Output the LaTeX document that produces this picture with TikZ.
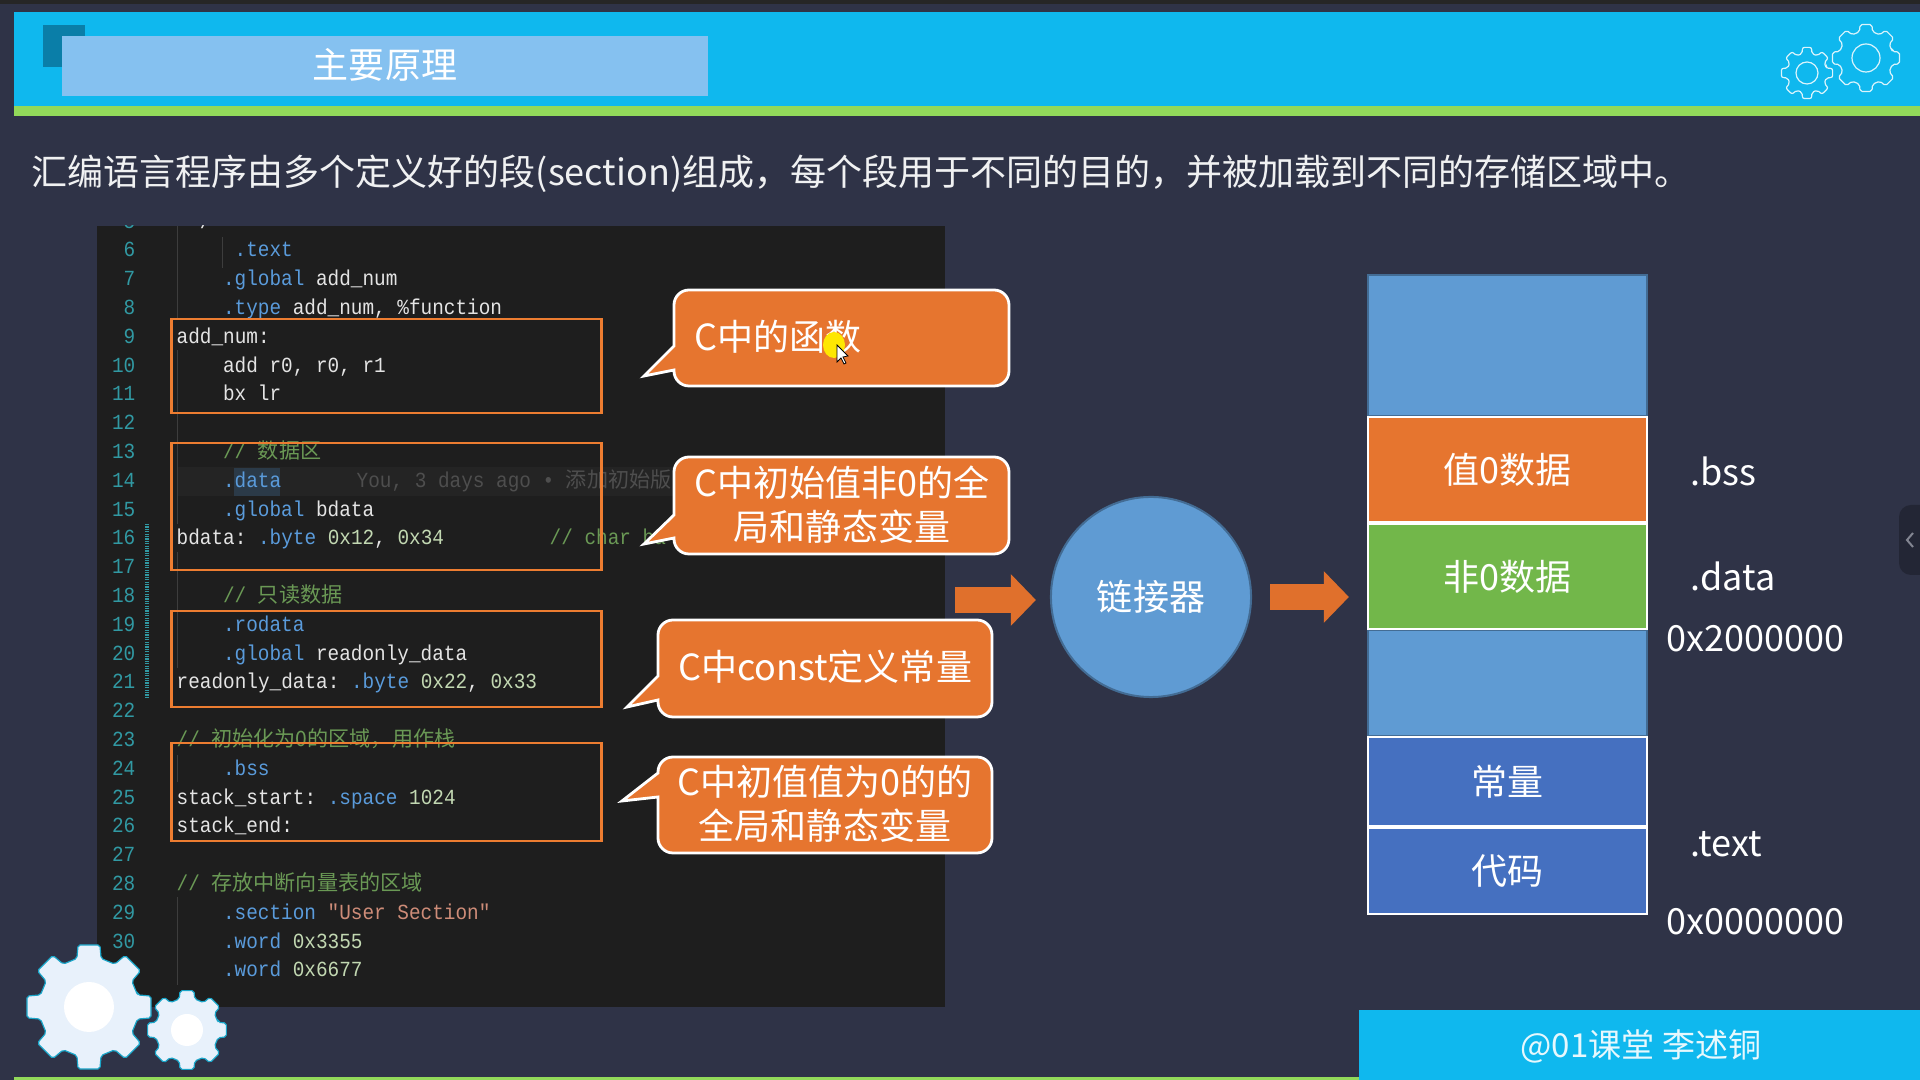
\documentclass[tikz,border=0pt]{standalone}
\usepackage{xcolor}
\usepackage{fontspec}
\setmainfont{Noto Sans CJK SC}
\newfontfamily\codefont[FakeStretch=0.9]{Liberation Mono}
\newfontfamily\cjkcode{Noto Sans CJK SC}
\usepackage{tikz}
\usetikzlibrary{arrows.meta, calc}
\definecolor{slidebg}{HTML}{2F3347}
\definecolor{headcyan}{HTML}{0FB8EE}
\definecolor{headgreen}{HTML}{92D95A}
\definecolor{titlefill}{HTML}{85C1F0}
\definecolor{cornerblue}{HTML}{0A7EA8}
\definecolor{panelbg}{HTML}{1E1E1E}
\definecolor{numteal}{HTML}{3199A3}
\definecolor{guide}{HTML}{3D3D3D}
\definecolor{kwblue}{HTML}{5A9BDB}
\definecolor{numgreen}{HTML}{C2D8B2}
\definecolor{strred}{HTML}{CE8C78}
\definecolor{cmtgreen}{HTML}{6A9955}
\definecolor{ghost}{HTML}{4E4E4E}
\definecolor{codewhite}{HTML}{E4E4E4}
\definecolor{boxorange}{HTML}{ED7D31}
\definecolor{bubblefill}{HTML}{E6752F}
\definecolor{arroworange}{HTML}{E0702C}
\definecolor{memblue}{HTML}{5F9BD3}
\definecolor{memgreen}{HTML}{72B74A}
\definecolor{memdeep}{HTML}{4570C0}
\definecolor{gearfill}{HTML}{E8F1FB}
\definecolor{gearedge}{HTML}{1AA5C8}

\newcommand{\asmkw}[1]{\textcolor{kwblue}{#1}}
\newcommand{\asmnum}[1]{\textcolor{numgreen}{#1}}
\newcommand{\asmstr}[1]{\textcolor{strred}{#1}}
\newcommand{\asmcjk}[1]{{\cjkcode\fontsize{6}{7}\selectfont #1}}

% x1 y1 x2 y2 tipx tipy base-top base-bottom
\newcommand{\bubble}[8]{
  \draw[bubbleshape] ($(#1,#2)+(15,0)$) -- ($(#3,#2)+(-15,0)$) arc[start angle=-90, end angle=0, radius=15]
    -- ($(#3,#4)+(0,-15)$) arc[start angle=0, end angle=90, radius=15]
    -- ($(#1,#4)+(15,0)$) arc[start angle=90, end angle=180, radius=15]
    -- (#1,#8) -- (#5,#6) -- (#1,#7)
    -- ($(#1,#2)+(0,15)$) arc[start angle=180, end angle=270, radius=15] -- cycle;
}
% cx cy outer inner style
\newcommand{\gear}[5]{
  \begin{scope}[shift={(#1,#2)}]
    \draw[#5, rounded corners=0.02cm] (-14:#4)
      \foreach \a in {0,45,...,315} { -- (\a-14:#4) -- (\a-10:#3) -- (\a+10:#3) -- (\a+14:#4) } -- cycle;
  \end{scope}
}

\begin{document}
\begin{tikzpicture}[
    x=0.01cm, y=-0.01cm,
    bigtext/.style={font=\fontsize{10.24}{12.5}\selectfont, text=white, inner sep=0pt, align=center},
    codeline/.style={anchor=base west, inner sep=0pt, text=codewhite, font=\codefont\fontsize{6.12}{7}\selectfont\frenchspacing},
    linenum/.style={anchor=base east, inner sep=0pt, text=numteal, font=\codefont\fontsize{6.12}{7}\selectfont},
    codebox/.style={draw=boxorange, line width=0.025cm},
    bubbleshape/.style={draw=white, line width=0.028cm, fill=bubblefill},
    blockarrow/.style={-{Triangle[length=0.25cm, width=0.5cm]}, line width=0.26cm, color=arroworange},
    memseg/.style={rectangle, draw=white, line width=0.025cm, minimum width=2.785cm, inner sep=0pt,
                   font=\fontsize{10.24}{12.5}\selectfont, text=white},
    linkernode/.style={circle, draw=memblue!70!black, line width=0.02cm, fill=memblue, minimum size=2cm,
                   inner sep=0pt, font=\fontsize{10.24}{12.5}\selectfont, text=white},
]
\useasboundingbox (0,0) rectangle (1920,1080);
\fill[slidebg] (0,0) rectangle (1920,1080);
\fill[black!85] (0,0) rectangle (1920,4);

% header band
\fill[headcyan] (14,12) rectangle (1920,106);
\fill[headgreen] (14,106) rectangle (1920,116);
\fill[cornerblue] (43,25) rectangle (85,67);
\fill[titlefill] (62,36) rectangle (708,96);
\node[bigtext] (title) at (385,65) {主要原理};
\node[bigtext, anchor=base west, text=white!93!slidebg] (subtitle) at (31,185.5) {汇编语言程序由多个定义好的段(section)组成，每个段用于不同的目的，并被加载到不同的存储区域中。};

% header gears
\gear{1866}{58}{34}{27}{draw=white!85!headcyan, line width=0.012cm}
\draw[draw=white!85!headcyan, line width=0.012cm] (1866,58) circle (14);
\gear{1807}{73}{26}{20}{draw=white!85!headcyan, line width=0.012cm}
\draw[draw=white!85!headcyan, line width=0.012cm] (1807,73) circle (11);

% code panel
\fill[panelbg] (97,226) rectangle (945,1007);
\fill[white!2.5!panelbg] (177,467) rectangle (945,496);
\fill[kwblue!22!panelbg] (234,468) rectangle (280,496);
\foreach \ya/\yb in {226/318, 350/524, 552/668, 755/782, 897/985}
  \draw[guide, line width=0.01cm] (177,\ya) -- (177,\yb);
\draw[guide, line width=0.01cm] (222,237) -- (222,268);
\draw[numteal, line width=0.04cm, dash pattern=on 0.012cm off 0.012cm] (147,524) -- (147,697);

\begin{scope}
  \clip (97,226) rectangle (945,1007);
  % line numbers
  \foreach \n in {5,...,30} {
    \pgfmathsetmacro{\ly}{257+(\n-6)*28.8}
    \node[linenum] (num\n) at (136,\ly) {\n};
  }
  % code lines: number / column / text
  \foreach \n/\col/\txt in {
    5/2/{/},
    6/5/{\asmkw{.text}},
    7/4/{\asmkw{.global} add\_num},
    8/4/{\asmkw{.type} add\_num, \%function},
    9/0/{add\_num:},
    10/4/{add r0, r0, r1},
    11/4/{bx lr},
    13/4/{\textcolor{cmtgreen}{// \asmcjk{数据区}}},
    14/4/{\asmkw{.data}},
    15/4/{\asmkw{.global} bdata},
    16/0/{bdata: \asmkw{.byte} \asmnum{0x12}, \asmnum{0x34}},
    18/4/{\textcolor{cmtgreen}{// \asmcjk{只读数据}}},
    19/4/{\asmkw{.rodata}},
    20/4/{\asmkw{.global} readonly\_data},
    21/0/{readonly\_data: \asmkw{.byte} \asmnum{0x22}, \asmnum{0x33}},
    23/0/{\textcolor{cmtgreen}{// \asmcjk{初始化为0的区域，用作栈}}},
    24/4/{\asmkw{.bss}},
    25/0/{stack\_start: \asmkw{.space} \asmnum{1024}},
    26/0/{stack\_end:},
    28/0/{\textcolor{cmtgreen}{// \asmcjk{存放中断向量表的区域}}},
    29/4/{\asmkw{.section} \asmstr{"User Section"}},
    30/4/{\asmkw{.word} \asmnum{0x3355}},
    31/4/{\asmkw{.word} \asmnum{0x6677}}} {
    \pgfmathsetmacro{\ly}{257+(\n-6)*28.8}
    \pgfmathsetmacro{\lx}{176+\col*11.6}
    \node[codeline] (line\n) at (\lx,\ly) {\txt};
  }
  \node[codeline, text=ghost] (blame) at (356,487.4) {You, 3 days ago • \asmcjk{添加初始版}};
  \node[codeline, text=cmtgreen] (charcmt) at (549,545) {// char ba};
\end{scope}

% boxes round the sections
\draw[codebox] (171.5,319) rectangle (601.5,413);
\draw[codebox] (171.5,443) rectangle (601.5,570);
\draw[codebox] (171.5,611) rectangle (601.5,707);
\draw[codebox] (171.5,743) rectangle (601.5,841);

% callouts
\bubble{674}{290}{1009}{386}{644}{376}{346}{370}
\bubble{674}{457}{1009}{554}{644}{544}{515}{538}
\bubble{658}{620}{992}{717}{627}{707}{676}{700}
\bubble{658}{757}{992}{853}{622}{801}{773}{797}
\node[bigtext, anchor=west] (funcnote) at (694,337) {C中的函数};
\node[bigtext] (datanote) at (842,505) {C中初始值非0的全\\局和静态变量};
\node[bigtext] (constnote) at (825,667) {C中const定义常量};
\node[bigtext] (bssnote) at (825,804) {C中初值值为0的的\\全局和静态变量};

% mouse pointer
\fill[yellow!90!orange] (834,345) ellipse (11 and 13);
\draw[black, fill=white, line width=0.008cm] (837,345) -- (837,362) -- (841,358) -- (844,364) -- (846,363) -- (843,357) -- (848,356) -- cycle;

% linker and memory map
\node[linkernode] (linker) at (1151,597) {链接器};
\node[memseg, draw=memblue!70!black, fill=memblue, minimum height=1.41cm] (memtop) at (1507.5,345.5) {};
\node[memseg, draw=memblue!70!black, fill=memblue, minimum height=1.06cm] (memgap) at (1507.5,683) {};
\node[memseg, fill=bubblefill, minimum height=1.045cm] (membss) at (1507.5,469.5) {值0数据};
\node[memseg, fill=memgreen, minimum height=1.045cm] (memdata) at (1507.5,576.5) {非0数据};
\node[memseg, fill=memdeep, minimum height=0.885cm] (memconst) at (1507.5,781.5) {常量};
\node[memseg, fill=memdeep, minimum height=0.855cm] (memcode) at (1507.5,871) {代码};

\coordinate (objects) at (955,600);
\draw[blockarrow, shorten >=0.14cm] (objects) -- (objects -| linker.west);
\draw[blockarrow, shorten <=0.18cm, shorten >=0.18cm] (linker.east) -- (linker.east -| memdata.west);

\node[bigtext, anchor=west] (bsslabel) at (1690,471) {.bss};
\node[bigtext, anchor=west] (datalabel) at (1690,576) {.data};
\node[bigtext, anchor=west] (ramaddr) at (1666,639) {0x2000000};
\node[bigtext, anchor=west] (textlabel) at (1690,844) {.text};
\node[bigtext, anchor=west] (romaddr) at (1666,922) {0x0000000};

% side tab
\fill[slidebg!75!black, rounded corners=0.12cm] (1899,505) rectangle (1940,575);
\draw[slidebg!60!white, line width=0.02cm] (1913,533) -- (1907,540) -- (1913,547);

% footer
\fill[headgreen] (14,1077) rectangle (1359,1080);
\fill[headcyan] (1359,1010) rectangle (1920,1080);
\node[bigtext, font=\fontsize{9.4}{12}\selectfont, text=white!90!headcyan] (footer) at (1641,1046) {@01课堂 李述铜};

% corner gears
\gear{89}{1007}{63}{50}{draw=gearedge, line width=0.012cm, fill=gearfill}
\fill[white] (89,1007) circle (25);
\gear{187}{1030}{40}{32}{draw=gearedge, line width=0.012cm, fill=gearfill}
\fill[white] (187,1030) circle (16);

\end{tikzpicture}
\end{document}
